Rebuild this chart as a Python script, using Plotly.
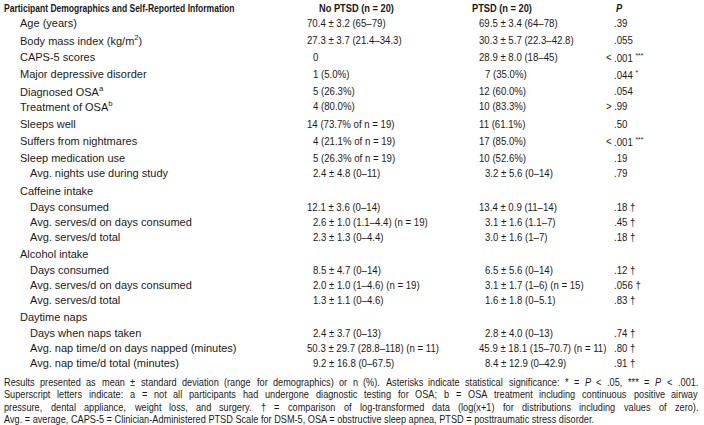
import re
import plotly.graph_objects as go

# ---------------- data ----------------
title_header = "Participant Demographics and Self-Reported Information"
group_headers = ["No PTSD (n = 20)", "PTSD (n = 20)", "<i>P</i>"]

row_labels = [
    "Age (years)", "Body mass index (kg/m<sup>2</sup>)", "CAPS-5 scores",
    "Major depressive disorder", "Diagnosed OSA<sup>a</sup>", "Treatment of OSA<sup>b</sup>",
    "Sleeps well", "Suffers from nightmares", "Sleep medication use",
    "Avg. nights use during study",
    "Caffeine intake", "Days consumed", "Avg. serves/d on days consumed", "Avg. serves/d total",
    "Alcohol intake", "Days consumed", "Avg. serves/d on days consumed", "Avg. serves/d total",
    "Daytime naps", "Days when naps taken", "Avg. nap time/d on days napped (minutes)",
    "Avg. nap time/d total (minutes)",
]
row_level = [1, 1, 1, 1, 1, 1, 1, 1, 1, 2, 1, 2, 2, 2, 1, 2, 2, 2, 1, 2, 2, 2]

no_ptsd = [
    "70.4 ± 3.2 (65–79)", "27.3 ± 3.7 (21.4–34.3)", "0", "1 (5.0%)", "5 (26.3%)", "4 (80.0%)",
    "14 (73.7% of n = 19)", "4 (21.1% of n = 19)", "5 (26.3% of n = 19)", "2.4 ± 4.8 (0–11)",
    "", "12.1 ± 3.6 (0–14)", "2.6 ± 1.0 (1.1–4.4) (n = 19)", "2.3 ± 1.3 (0–4.4)",
    "", "8.5 ± 4.7 (0–14)", "2.0 ± 1.0 (1–4.6) (n = 19)", "1.3 ± 1.1 (0–4.6)",
    "", "2.4 ± 3.7 (0–13)", "50.3 ± 29.7 (28.8–118) (n = 11)", "9.2 ± 16.8 (0–67.5)",
]
ptsd = [
    "69.5 ± 3.4 (64–78)", "30.3 ± 5.7 (22.3–42.8)", "28.9 ± 8.0 (18–45)", "7 (35.0%)",
    "12 (60.0%)", "10 (83.3%)", "11 (61.1%)", "17 (85.0%)", "10 (52.6%)", "3.2 ± 5.6 (0–14)",
    "", "13.4 ± 0.9 (11–14)", "3.1 ± 1.6 (1.1–7)", "3.0 ± 1.6 (1–7)",
    "", "6.5 ± 5.6 (0–14)", "3.1 ± 1.7 (1–6) (n = 15)", "1.6 ± 1.8 (0–5.1)",
    "", "2.8 ± 4.0 (0–13)", "45.9 ± 18.1 (15–70.7) (n = 11)", "8.4 ± 12.9 (0–42.9)",
]
p_prefix = ["", "", "<", "", "", ">", "", "<", "", "", "", "", "", "", "", "", "", "", "", "", "", ""]
p_value = [".39", ".055", ".001", ".044", ".054", ".99", ".50", ".001", ".19", ".79",
           "", ".18", ".45", ".18", "", ".12", ".056", ".83", "", ".74", ".80", ".91"]
p_mark = ["", "", "***", "*", "", "", "", "***", "", "", "", "†", "†", "†", "", "†", "†", "†",
          "", "†", "†", "†"]

footnotes = [
    "Results presented as mean ± standard deviation (range for demographics) or n (%). Asterisks indicate statistical significance: * = <i>P</i> < .05, *** = <i>P</i> < .001.",
    "Superscript letters indicate: a = not all participants had undergone diagnostic testing for OSA; b = OSA treatment including continuous positive airway",
    "pressure, dental appliance, weight loss, and surgery. † = comparison of log-transformed data (log(x+1) for distributions including values of zero).",
    "Avg. = average, CAPS-5 = Clinician-Administered PTSD Scale for DSM-5, OSA = obstructive sleep apnea, PTSD = posttraumatic stress disorder.",
]
footnote_justified = [True, True, True, False]

# ---------------- layout / style ----------------
W, H = 704, 425
FONT = "Liberation Sans, Arial, sans-serif"
# condensed faces: rendered with Liberation Sans and compressed horizontally (see CSS below)
NARROW = "Liberation Sans Narrow, Liberation Sans, Arial, sans-serif"
NARROW_K = 0.82
SEMI = "Liberation Sans Condensed, Liberation Sans, Arial, sans-serif"
SEMI_K = 0.86
FS_LAB = 11
FS_VAL = 11.2
FS_HEAD = 10.4
FS_COLHEAD = 11.3
FS_NOTE = 11.2
COLOR = "#1a1a1a"
row_step = [15, 17, 17, 17, 17, 15, 18, 17, 17, 15, 18, 16, 15, 15, 17, 16, 15, 15, 17, 16, 15, 15]
header_y = 8
indent_x = {1: 20, 2: 30}
col_no_ptsd = 318   # right edge of leading integer digits
col_ptsd = 490
col_p = 614
head_centers = [356, 502, 619]
note_y0, note_dy = 382, 12.4
note_left, note_right = 4, 698

# Arial / Liberation Sans advance widths (1/1000 em)
_AW = {' ': 278, '!': 278, '"': 355, '#': 556, '$': 556, '%': 889, '&': 667, "'": 191,
       '(': 333, ')': 333, '*': 389, '+': 584, ',': 278, '-': 333, '.': 278, '/': 278,
       ':': 278, ';': 278, '<': 584, '=': 584, '>': 584, '?': 556, '@': 1015,
       'A': 667, 'B': 667, 'C': 722, 'D': 722, 'E': 667, 'F': 611, 'G': 778, 'H': 722,
       'I': 278, 'J': 500, 'K': 667, 'L': 556, 'M': 833, 'N': 722, 'O': 778, 'P': 667,
       'Q': 778, 'R': 722, 'S': 667, 'T': 611, 'U': 722, 'V': 667, 'W': 944, 'X': 667,
       'Y': 667, 'Z': 611, '[': 278, ']': 278, 'a': 556, 'b': 556, 'c': 500, 'd': 556,
       'e': 556, 'f': 278, 'g': 556, 'h': 556, 'i': 222, 'j': 222, 'k': 500, 'l': 222,
       'm': 833, 'n': 556, 'o': 556, 'p': 556, 'q': 556, 'r': 333, 's': 500, 't': 278,
       'u': 556, 'v': 500, 'w': 722, 'x': 500, 'y': 500, 'z': 500, '±': 584, '†': 556,
       '–': 556}
_BW = {'P': 667, 'a': 556, 'r': 389, 't': 333, 'i': 278, 'c': 556, 'p': 611, 'n': 611,
       'D': 722, 'e': 556, 'm': 889, 'o': 611, 'g': 611, 'h': 611, 's': 556, 'd': 611,
       'S': 667, 'l': 278, 'f': 333, '-': 333, 'R': 722, 'I': 278, 'N': 722, 'T': 611,
       'A': 722, '(': 333, ')': 333, '=': 584, ' ': 278, '0': 556, '2': 556}


def text_w(s, size, k=1.0, bold=False):
    s = re.sub(r"<[^>]+>", "", s)
    tab = _BW if bold else _AW
    return sum(tab.get(c, _AW.get(c, 556)) for c in s) / 1000.0 * size * k


fig = go.Figure()
ann = []


def add(text, x, y, size, family=FONT, bold=False):
    if bold:
        text = "<b>" + text + "</b>"
    ann.append(dict(text=text, x=x, y=y, xref="x", yref="y", xanchor="left", yanchor="middle",
                    showarrow=False, borderpad=0, borderwidth=0,
                    font=dict(family=family, size=size, color=COLOR)))


def add_value(val, xcol, y):
    if not val:
        return
    m = re.match(r"^(\d+)", val)
    nd = len(m.group(1)) if m else 0
    add(val, xcol - nd * 0.556 * FS_VAL * SEMI_K, y, FS_VAL, SEMI)


add(title_header, 4, header_y, FS_HEAD, NARROW, bold=True)
for txt, cx in zip(group_headers, head_centers):
    add(txt, cx - text_w(txt, FS_COLHEAD, NARROW_K, True) / 2, header_y, FS_COLHEAD,
        NARROW, bold=True)

y = header_y
for i, lab in enumerate(row_labels):
    y += row_step[i]
    add(lab, indent_x[row_level[i]], y, FS_LAB)
    add_value(no_ptsd[i], col_no_ptsd, y)
    add_value(ptsd[i], col_ptsd, y)
    if p_value[i]:
        if p_prefix[i]:
            add(p_prefix[i], col_p - text_w(p_prefix[i] + " ", FS_VAL, SEMI_K), y, FS_VAL, SEMI)
        mark = p_mark[i]
        if mark.startswith("*"):
            txt = p_value[i] + " <sup>" + mark + "</sup>"
        elif mark:
            txt = p_value[i] + " " + mark
        else:
            txt = p_value[i]
        add(txt, col_p, y, FS_VAL, SEMI)

# footnote: justified lines placed word by word
fy = note_y0
for line, just in zip(footnotes, footnote_justified):
    if not just:
        add(line, note_left, fy, FS_NOTE, NARROW)
    else:
        words = line.split(" ")
        ww = [text_w(w, FS_NOTE, NARROW_K) for w in words]
        gap = (note_right - note_left - sum(ww)) / (len(words) - 1)
        gap = max(gap, 0.2 * FS_NOTE)
        x = note_left
        for w, wd in zip(words, ww):
            add(w, x, fy, FS_NOTE, NARROW)
            x += wd + gap
    fy += note_dy

fig.update_layout(
    width=W, height=H, margin=dict(l=0, r=0, t=0, b=0),
    paper_bgcolor="white", plot_bgcolor="white",
    xaxis=dict(range=[0, W], visible=False, fixedrange=True),
    yaxis=dict(range=[H, 0], visible=False, fixedrange=True),
    annotations=ann, showlegend=False,
)
fig.write_html("out.html", config={"displayModeBar": False})

css = ("<style>body{margin:0;overflow:hidden}"
       "text.annotation-text[style*='Narrow']{transform:scaleX(%s);"
       "transform-box:fill-box;transform-origin:0%% 50%%;}"
       "text.annotation-text[style*='Condensed']{transform:scaleX(%s);"
       "transform-box:fill-box;transform-origin:0%% 50%%;}</style>" % (NARROW_K, SEMI_K))
with open("out.html", "r", encoding="utf-8") as f:
    html = f.read()
html = html.replace("</head>", css + "</head>", 1)
with open("out.html", "w", encoding="utf-8") as f:
    f.write(html)
